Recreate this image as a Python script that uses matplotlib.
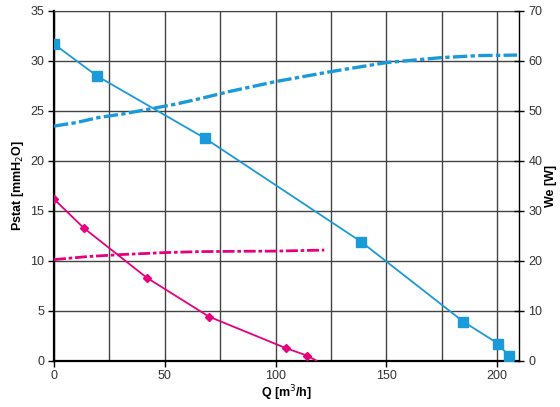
import matplotlib.pyplot as plt
from matplotlib.ticker import MultipleLocator

plt.rcParams['font.family'] = ['Liberation Sans', 'DejaVu Sans']

# pressure curves (left axis, mmH2O)
q_blue = [0, 19.5, 68, 138.5, 184.7, 200.4, 205.3]
p_blue = [31.65, 28.45, 22.25, 11.9, 3.9, 1.7, 0.45]

q_mag = [0, 13.5, 41.8, 69.9, 104.6, 114.2]
p_mag = [16.15, 13.25, 8.3, 4.4, 1.25, 0.5]
q_mag_end = [114.2, 118.4]
p_mag_end = [0.5, 0.0]

# power curves (right axis, W)
q_we_blue = [0, 10, 20, 32, 43, 55, 66, 79, 100, 125, 150, 175, 192, 209]
we_blue = [46.9, 47.6, 48.6, 49.4, 50.3, 51.3, 52.4, 53.8, 55.8, 57.8, 59.6, 60.6, 61.0, 61.1]

q_we_mag = [0, 15, 30, 50, 66, 81, 100, 122]
we_mag = [20.2, 20.8, 21.2, 21.6, 21.8, 21.85, 21.9, 22.1]

blue = '#1a9ad9'
mag = '#e6007e'

fig = plt.figure(figsize=(5.6, 4.07), dpi=100)
ax = fig.add_axes([0.0964, 0.114, 0.831, 0.86])
ax2 = ax.twinx()

ax.set_xlim(0, 210)
ax.set_ylim(0, 35)
ax2.set_ylim(0, 70)

ax.xaxis.set_major_locator(MultipleLocator(50))
ax.xaxis.set_minor_locator(MultipleLocator(25))
ax.yaxis.set_major_locator(MultipleLocator(5))
ax2.yaxis.set_major_locator(MultipleLocator(10))

ax.grid(True, which='both', color='#444444', lw=1.0)
ax.set_axisbelow(True)

# pressure lines with markers
ax.plot(q_blue, p_blue, color=blue, lw=1.3, marker='s', ms=7, zorder=3)
ax.plot(q_mag, p_mag, color=mag, lw=1.3, marker='D', ms=4, zorder=3)
ax.plot(q_mag_end, p_mag_end, color=mag, lw=1.3, zorder=3)

# power lines, dash-dot
l1, = ax2.plot(q_we_blue, we_blue, color=blue, lw=2.4)
l1.set_dashes((4.3, 1, 1.3, 1))
l2, = ax2.plot(q_we_mag, we_mag, color=mag, lw=2.0)
l2.set_dashes((4.3, 1, 1.3, 1))

for s in ['left', 'bottom']:
    ax.spines[s].set_linewidth(1.6)
    ax.spines[s].set_color('black')
ax.spines['top'].set_color('#444444')
ax2.spines['top'].set_visible(False)
ax2.spines['left'].set_visible(False)
ax2.spines['bottom'].set_visible(False)
ax2.spines['right'].set_linewidth(1.0)
ax.spines['right'].set_visible(False)

ax.tick_params(axis='both', which='major', labelsize=9, length=4, width=1,
               color='black', labelcolor='#333333', pad=3)
ax.tick_params(axis='x', which='minor', length=0)
ax2.tick_params(axis='y', labelsize=9, length=7, width=1, direction='inout',
                labelcolor='#333333', pad=3)

ax.set_xlabel('Q [m$^3$/h]', fontsize=9, fontweight='bold')
ax.set_ylabel('Pstat [mmH$_2$O]', fontsize=9, fontweight='bold')
ax2.set_ylabel('We [W]', fontsize=9, fontweight='bold')
ax.xaxis.set_label_coords(0.5, -0.093)
ax.yaxis.set_label_coords(-0.077, 0.5)
ax2.yaxis.set_label_coords(1.069, 0.5)
ax.xaxis.label.set_va('center')
ax.yaxis.label.set_va('center')
ax2.yaxis.label.set_va('center')

fig.savefig('out.png', dpi=100)
